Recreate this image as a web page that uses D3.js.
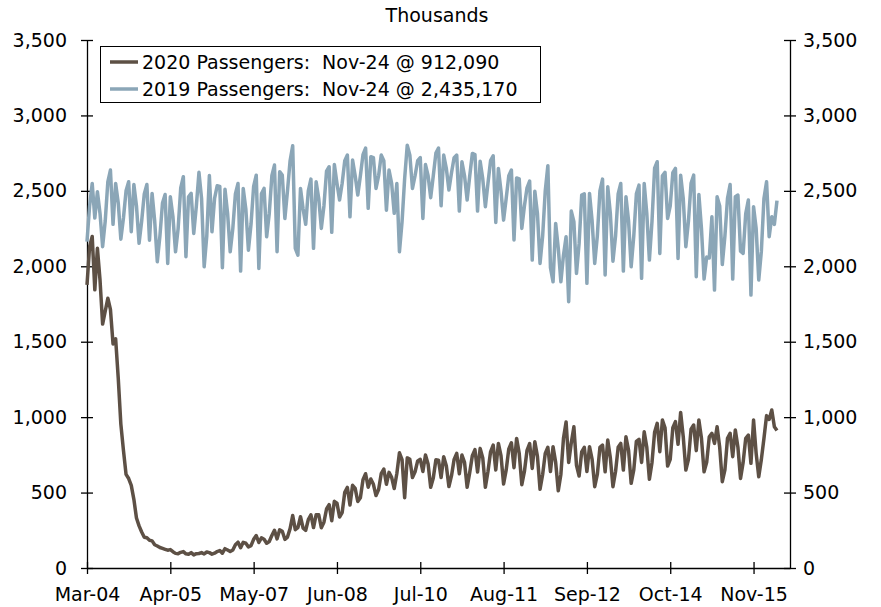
<!DOCTYPE html>
<html>
<head>
<meta charset="utf-8">
<script src="https://cdn.jsdelivr.net/npm/d3@7"></script>
<style>
  body { margin: 0; background: #fff; }
  text { font-family: "DejaVu Sans", Verdana, sans-serif; font-size: 19px; fill: #000; }
</style>
</head>
<body>
<svg id="chart" width="881" height="607"></svg>
<script>
// TSA checkpoint throughput, thousands per day, Mar-04 .. Nov-24
// one row per week (Wed .. Tue)
var startDate = '2020-03-04';

var pass2020 = [
  1877, 2130, 2198, 1844, 2119, 1909, 1617,
  1702, 1788, 1714, 1485, 1519, 1258, 954,
  780, 621, 593, 548, 455, 331, 279,
  239, 204, 200, 184, 180, 154, 146,
  136, 130, 124, 118, 122, 108, 97,
  95, 104, 109, 94, 91, 102, 87,
  95, 96, 102, 93, 106, 102, 92,
  98, 109, 116, 98, 128, 119, 109,
  119, 154, 171, 134, 170, 164, 140,
  148, 190, 215, 169, 200, 191, 164,
  176, 215, 250, 193, 253, 244, 190,
  205, 261, 348, 254, 267, 340, 264,
  250, 321, 353, 268, 353, 353, 267,
  304, 391, 420, 313, 442, 430, 338,
  367, 502, 534, 418, 548, 528, 441,
  465, 585, 625, 535, 590, 555, 480,
  520, 625, 656, 555, 634, 601, 527,
  626, 764, 718, 466, 730, 720, 600,
  638, 710, 720, 640, 749, 690, 535,
  597, 717, 715, 600, 737, 678, 540,
  612, 720, 760, 625, 749, 700, 535,
  634, 745, 785, 636, 793, 730, 535,
  640, 770, 815, 650, 826, 745, 557,
  650, 790, 830, 665, 859, 760, 552,
  640, 780, 825, 660, 837, 740, 522,
  620, 760, 800, 640, 804, 700, 512,
  620, 860, 968, 700, 830, 936, 680,
  610, 770, 800, 640, 804, 720, 539,
  620, 800, 815, 638, 848, 730, 539,
  640, 800, 826, 649, 870, 780, 561,
  650, 840, 853, 700, 903, 800, 588,
  700, 900, 959, 771, 981, 930, 676,
  720, 930, 970, 820, 1031, 870, 649,
  720, 920, 948, 778, 981, 860, 638,
  700, 870, 893, 826, 936, 800, 572,
  650, 860, 893, 738, 915, 800, 594,
  700, 860, 881, 694, 981, 760, 605,
  720, 860, 1010, 985, 1047, 937, 912
];

var pass2019 = [
  2163, 2400, 2549, 2320, 2494, 2350, 2130,
  2300, 2560, 2638, 2278, 2549, 2420, 2180,
  2320, 2500, 2560, 2229, 2542, 2400, 2152,
  2300, 2480, 2542, 2173, 2483, 2300, 2030,
  2200, 2420, 2476, 2019, 2461, 2330, 2096,
  2250, 2520, 2594, 2063, 2461, 2483, 2218,
  2400, 2623, 2450, 1997, 2200, 2601, 2229,
  2450, 2534, 2530, 1990, 2511, 2350, 2096,
  2250, 2480, 2549, 1968, 2516, 2380, 2107,
  2280, 2530, 2604, 1986, 2480, 2516, 2196,
  2350, 2600, 2671, 2096, 2627, 2605, 2317,
  2500, 2700, 2799, 2119, 2074, 2516, 2380,
  2278, 2500, 2578, 2119, 2560, 2450, 2251,
  2400, 2631, 2660, 2225, 2674, 2550, 2439,
  2550, 2700, 2737, 2328, 2704, 2600, 2472,
  2600, 2740, 2783, 2384, 2726, 2720, 2516,
  2600, 2737, 2700, 2372, 2638, 2550, 2351,
  2549, 2096, 2295, 2582, 2803, 2737, 2516,
  2600, 2700, 2720, 2317, 2674, 2600, 2455,
  2600, 2750, 2783, 2401, 2737, 2650, 2505,
  2620, 2720, 2737, 2366, 2693, 2600, 2439,
  2600, 2748, 2740, 2366, 2697, 2580, 2395,
  2550, 2700, 2733, 2291, 2649, 2500, 2306,
  2450, 2600, 2638, 2174, 2586, 2580, 2251,
  2400, 2520, 2565, 2041, 2498, 2350, 2019,
  2200, 2500, 2667, 1990, 1897, 2284, 2120,
  1897, 2074, 2196, 1765, 2366, 2295, 1953,
  2150, 2472, 2480, 1887, 2483, 2300, 2019,
  2200, 2500, 2578, 1942, 2527, 2350, 2034,
  2200, 2480, 2549, 1968, 2461, 2300, 1997,
  2200, 2480, 2538, 1920, 2549, 2350, 2041,
  2300, 2650, 2693, 2085, 2600, 2623, 2317,
  2400, 2620, 2649, 2052, 2604, 2450, 2130,
  2300, 2550, 2604, 1931, 2476, 2250, 1915,
  2061, 2055, 2328, 1842, 2461, 2400, 2012,
  2200, 2450, 2542, 1915, 2461, 2472, 2100,
  2085, 2350, 2439, 1809, 2395, 2250, 1909,
  2100, 2450, 2560, 2196, 2328, 2278, 2435
];

var seriesLabels = ['2020 Passengers:  Nov-24 @ 912,090', '2019 Passengers:  Nov-24 @ 2,435,170'];
var seriesColors = ['#5d5045', '#8ba6b7'];
var xTickLabels = ['Mar-04', 'Apr-05', 'May-07', 'Jun-08', 'Jul-10', 'Aug-11', 'Sep-12', 'Oct-14', 'Nov-15'];
var yTicks = [0, 500, 1000, 1500, 2000, 2500, 3000, 3500];
var axisTitle = 'Thousands';

var parseDay = d3.timeParse('%Y-%m-%d');
var parseTick = d3.timeParse('%b-%d %Y');
var start = parseDay(startDate);

function toPoints(values) {
  return values.map(function(v, i) {
    return { date: d3.timeDay.offset(start, i), value: v };
  });
}

var svg = d3.select('#chart');

var x = d3.scaleTime()
  .domain([start, parseDay('2020-11-29')])
  .range([87, 790]);

var y = d3.scaleLinear()
  .domain([0, 3500])
  .range([568, 40]);

// left axis
var left = svg.append('g')
  .attr('transform', 'translate(87,0)')
  .call(d3.axisLeft(y).tickValues(yTicks).tickFormat(d3.format(',')).tickSizeInner(6).tickSizeOuter(0).tickPadding(14));
left.selectAll('.tick line').attr('x1', 6);

// right axis
var right = svg.append('g')
  .attr('transform', 'translate(790,0)')
  .call(d3.axisRight(y).tickValues(yTicks).tickFormat(d3.format(',')).tickSizeInner(6).tickSizeOuter(0).tickPadding(7));
right.selectAll('.tick line').attr('x1', -6);

// bottom axis
var tickDates = xTickLabels.map(function(s) { return parseTick(s + ' 2020'); });
var bottom = svg.append('g')
  .attr('transform', 'translate(0,568)')
  .call(d3.axisBottom(x).tickValues(tickDates).tickFormat(d3.timeFormat('%b-%d')).tickSizeInner(6).tickSizeOuter(0).tickPadding(14));
bottom.selectAll('.tick line').attr('y1', -6);

svg.selectAll('.domain, .tick line').attr('stroke', '#000').attr('stroke-width', 1.3);

svg.append('text')
  .attr('x', 437)
  .attr('y', 22)
  .attr('text-anchor', 'middle')
  .text(axisTitle);

var line = d3.line()
  .x(function(d) { return x(d.date); })
  .y(function(d) { return y(d.value); });

// 2019 first so that 2020 sits on top
[pass2019, pass2020].forEach(function(values, k) {
  svg.append('path')
    .datum(toPoints(values))
    .attr('fill', 'none')
    .attr('stroke', seriesColors[1 - k])
    .attr('stroke-width', 3.5)
    .attr('stroke-linejoin', 'round')
    .attr('d', line);
});

// legend
var legend = svg.append('g');
legend.append('rect')
  .attr('x', 100.5).attr('y', 46.5)
  .attr('width', 440).attr('height', 56)
  .attr('fill', '#fff').attr('stroke', '#000').attr('stroke-width', 1);

seriesLabels.forEach(function(label, i) {
  var ly = 62 + i * 27;
  legend.append('line')
    .attr('x1', 110).attr('x2', 138)
    .attr('y1', ly).attr('y2', ly)
    .attr('stroke', seriesColors[i]).attr('stroke-width', 3.5);
  legend.append('text')
    .attr('x', 142).attr('y', ly + 7)
    .attr('xml:space', 'preserve')
    .style('white-space', 'pre')
    .text(label);
});
</script>
</body>
</html>
